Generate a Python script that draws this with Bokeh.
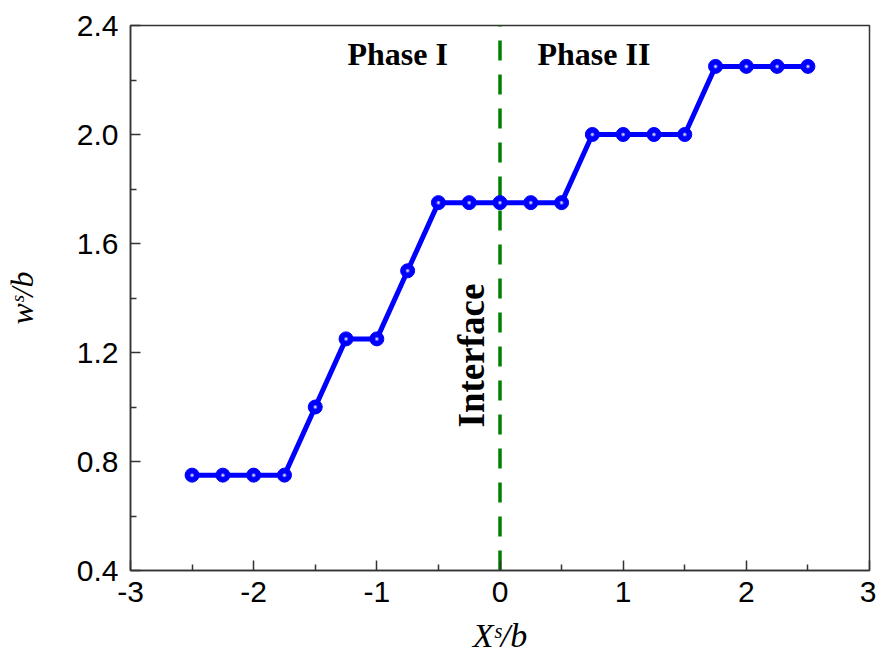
import math
from bokeh.plotting import figure
from bokeh.models import Range1d, FixedTicker, PrintfTickFormatter, Label, ColumnDataSource
from bokeh.embed import file_html
from bokeh.resources import INLINE

# ---- data ----
xs_b = [-2.5, -2.25, -2.0, -1.75, -1.5, -1.25, -1.0, -0.75, -0.5, -0.25, 0.0,
        0.25, 0.5, 0.75, 1.0, 1.25, 1.5, 1.75, 2.0, 2.25, 2.5]
ws_b = [0.75, 0.75, 0.75, 0.75, 1.0, 1.25, 1.25, 1.5, 1.75, 1.75, 1.75,
        1.75, 1.75, 2.0, 2.0, 2.0, 2.0, 2.25, 2.25, 2.25, 2.25]
x_ticks = [-3, -2, -1, 0, 1, 2, 3]
x_minor = [-2.5, -1.5, -0.5, 0.5, 1.5, 2.5]
y_ticks = [0.4, 0.8, 1.2, 1.6, 2.0, 2.4]
y_minor = [0.6, 1.0, 1.4, 1.8, 2.2]
x_lim = (-3, 3)
y_lim = (0.4, 2.4)
interface_x = 0.0

src = ColumnDataSource(data=dict(x=xs_b, y=ws_b))

p = figure(width=876, height=656, output_backend="svg", toolbar_location=None,
           x_range=Range1d(*x_lim), y_range=Range1d(*y_lim),
           min_border_left=130, min_border_right=7, min_border_top=25, min_border_bottom=86)
p.background_fill_color = "white"
p.border_fill_color = "white"
p.grid.visible = False
p.outline_line_color = "#333333"
p.outline_line_width = 1.5

for ax in (p.xaxis[0], p.yaxis[0]):
    ax.axis_line_color = "#333333"
    ax.axis_line_width = 1.5
    ax.major_tick_line_color = "#333333"
    ax.minor_tick_line_color = "#333333"
    ax.major_tick_line_width = 1.5
    ax.minor_tick_line_width = 1.5
    ax.major_tick_in = 10
    ax.major_tick_out = 0
    ax.minor_tick_in = 6
    ax.minor_tick_out = 0
    ax.major_label_text_font = "Liberation Sans"
    ax.major_label_text_font_size = "30px"
    ax.major_label_text_color = "black"
    ax.axis_label_text_font = "Liberation Serif"
    ax.axis_label_text_font_style = "italic"
    ax.axis_label_text_color = "black"

p.xaxis[0].axis_label_text_font_size = "34px"
p.yaxis[0].axis_label_text_font_size = "32px"
p.xaxis[0].ticker = FixedTicker(ticks=x_ticks, minor_ticks=x_minor)
p.yaxis[0].ticker = FixedTicker(ticks=y_ticks, minor_ticks=y_minor)
p.xaxis[0].formatter = PrintfTickFormatter(format="%d")
p.yaxis[0].formatter = PrintfTickFormatter(format="%.1f")
p.xaxis[0].major_label_standoff = 11
p.yaxis[0].major_label_standoff = 12
p.xaxis[0].axis_label = "X\u02e2/b"
p.yaxis[0].axis_label = "w\u02e2/b"
p.xaxis[0].axis_label_standoff = 12
p.yaxis[0].axis_label_standoff = 34

# interface dashed line (drawn from bottom up)
p.line(x=[interface_x, interface_x], y=[y_lim[0], y_lim[1]], line_color="#008000",
       line_width=3.5, line_dash="20 14")

# data line and ball markers
p.line("x", "y", source=src, line_color="#0000FF", line_width=5)
p.scatter("x", "y", source=src, size=14, fill_color="#0000FF", line_color="#0000FF")
p.scatter("x", "y", source=src, size=4, fill_color="#7070ff", line_color=None)
p.scatter("x", "y", source=src, size=2, fill_color="#d8d8ff", line_color=None)

def lab(text, x, y, size, style="normal", angle=0.0, font="Liberation Serif"):
    p.add_layout(Label(x=x, y=y, x_units="screen", y_units="screen", text=text,
                       text_font=font, text_font_size=size, text_font_style=style,
                       text_color="black", angle=angle, text_align="left",
                       text_baseline="alphabetic"))

# annotations
lab("Phase I", 217, 517, "32px", "bold")
lab("Phase II", 407, 517, "32px", "bold")
lab("Interface", 341, 143, "37px", "bold", angle=math.pi / 2)

open("out.html", "w").write(file_html(p, INLINE))
